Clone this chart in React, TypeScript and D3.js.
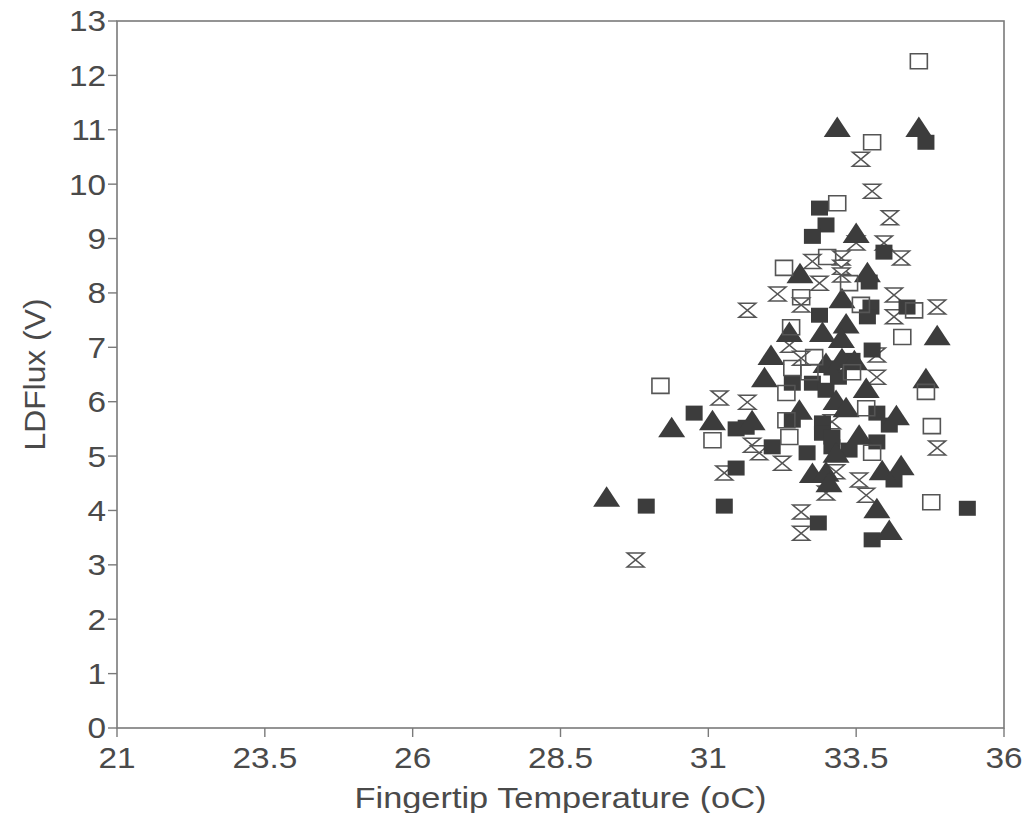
import React from "react";
import * as d3 from "d3";

// LDFlux (V) vs fingertip temperature (oC), four marker groups
const triangles: [number, number][] = [
  [33.18, 11.05], [34.56, 11.05], [33.5, 9.1], [32.55, 8.36], [33.69, 8.38],
  [33.26, 7.9], [32.37, 7.28], [32.93, 7.28], [33.33, 7.44], [33.25, 7.17],
  [34.87, 7.22], [32.06, 6.86], [32.99, 6.71], [33.26, 6.8], [33.47, 6.76],
  [31.95, 6.45], [33.67, 6.25], [34.68, 6.43], [33.16, 6.03], [33.33, 5.9],
  [31.07, 5.66], [30.38, 5.53], [32.54, 5.85], [34.18, 5.75], [31.74, 5.66],
  [33.55, 5.39], [33.16, 5.06], [33.94, 4.74], [34.26, 4.83], [32.76, 4.69],
  [32.99, 4.71], [33.04, 4.52], [29.28, 4.25], [33.85, 4.04], [34.06, 3.64],
];

const filledSquares: [number, number][] = [
  [34.68, 10.77], [32.88, 9.56], [32.99, 9.25], [32.76, 9.04], [33.97, 8.75],
  [33.72, 8.2], [33.75, 7.74], [33.69, 7.56], [34.36, 7.74], [32.88, 7.59],
  [33.77, 6.95], [33.43, 6.76], [32.42, 6.34], [32.76, 6.34], [32.99, 6.21],
  [30.76, 5.79], [32.42, 5.66], [33.85, 5.79], [34.06, 5.57], [32.93, 5.61],
  [32.93, 5.42], [31.47, 5.5], [31.64, 5.53], [32.08, 5.17], [33.85, 5.26],
  [33.09, 5.35], [33.09, 5.17], [32.67, 5.06], [33.38, 5.11], [31.47, 4.78],
  [34.14, 4.56], [29.95, 4.08], [31.27, 4.08], [35.38, 4.04], [32.86, 3.77],
  [33.77, 3.46], [33.09, 6.62], [33.2, 6.45],
];

const openSquares: [number, number][] = [
  [34.56, 12.26], [33.77, 10.77], [33.18, 9.65], [33.01, 8.66], [32.28, 8.46],
  [33.38, 8.18], [32.57, 7.92], [33.58, 7.78], [34.48, 7.68], [32.4, 7.37],
  [34.28, 7.19], [32.42, 6.62], [33.43, 6.54], [34.68, 6.18], [30.19, 6.29],
  [33.67, 5.88], [31.07, 5.29], [32.32, 5.66], [32.37, 5.35], [34.78, 5.55],
  [33.77, 5.06], [34.77, 4.15], [32.32, 6.16], [32.79, 6.82], [32.71, 6.54],
];

const hourglasses: [number, number][] = [
  [33.58, 10.46], [33.77, 9.87], [34.07, 9.38], [33.5, 8.92], [33.97, 8.92],
  [34.26, 8.64], [32.76, 8.58], [33.25, 8.64], [33.25, 8.47], [33.25, 8.33],
  [32.88, 8.18], [32.17, 7.98], [32.57, 7.78], [34.14, 7.96], [34.14, 7.56],
  [34.87, 7.74], [31.66, 7.68], [32.37, 7.04], [33.85, 6.86], [32.57, 6.8],
  [33.85, 6.45], [31.19, 6.07], [31.66, 5.99], [34.87, 5.15], [31.74, 5.2],
  [31.86, 5.06], [32.25, 4.87], [31.27, 4.69], [33.16, 4.71], [32.99, 4.32],
  [33.55, 4.56], [33.67, 4.28], [32.57, 3.97], [32.57, 3.58], [29.77, 3.09],
  [33.09, 5.63],
];

const xTicks = [21, 23.5, 26, 28.5, 31, 33.5, 36];
const yTicks = d3.range(0, 14);

const width = 1026;
const height = 813;
const margin = { top: 21, right: 22, bottom: 85, left: 117 };

const axisColor = "#7a7a7a";
const textColor = "#4a4a4a";
const markColor = "#3c3c3c";
const font = "'Liberation Sans', Arial, Helvetica, sans-serif";

export default function App() {
  const x = d3.scaleLinear().domain([21, 36]).range([margin.left, width - margin.right]);
  const y = d3.scaleLinear().domain([0, 13]).range([height - margin.bottom, margin.top]);

  const x0 = x(21), x1 = x(36), y0 = y(0), y1 = y(13);

  const tri = "M0,-10.5 L13.5,10 L-13.5,10 Z";
  const sq = "M-8.5,-7.5 L8.5,-7.5 L8.5,7.5 L-8.5,7.5 Z";
  const hg = "M-8.5,-7 L8.5,-7 L-8.5,7 L8.5,7 Z";

  return (
    <svg width={width} height={height} style={{ position: "absolute", left: 0, top: 0, display: "block", background: "#fff" }}>
      {/* frame */}
      <rect x={x0} y={y1} width={x1 - x0} height={y0 - y1} fill="none" stroke={axisColor} strokeWidth={1.6} />

      {/* y ticks */}
      {yTicks.map((t) => (
        <g key={"y" + t}>
          <line x1={x0 - 9} x2={x0} y1={y(t)} y2={y(t)} stroke={axisColor} strokeWidth={1.4} />
          <g transform={`translate(${x0 - 11},${y(t)}) scale(1.15,1)`}>
            <text dy="0.36em" textAnchor="end" fontFamily={font} fontSize={29} fill={textColor}>
              {t}
            </text>
          </g>
        </g>
      ))}

      {/* x ticks */}
      {xTicks.map((t) => (
        <g key={"x" + t}>
          <line x1={x(t)} x2={x(t)} y1={y0} y2={y0 + 9} stroke={axisColor} strokeWidth={1.4} />
          <g transform={`translate(${x(t)},${y0 + 40}) scale(1.15,1)`}>
            <text textAnchor="middle" fontFamily={font} fontSize={29} fill={textColor}>
              {t}
            </text>
          </g>
        </g>
      ))}

      {/* axis titles */}
      <text x={(x0 + x1) / 2} y={808} textAnchor="middle" fontFamily={font} fontSize={30} fill={textColor}
        textLength={412} lengthAdjust="spacingAndGlyphs">
        Fingertip Temperature (oC)
      </text>
      <text transform={`translate(45,${(y0 + y1) / 2}) rotate(-90)`} textAnchor="middle" fontFamily={font}
        fontSize={30} fill={textColor} textLength={152} lengthAdjust="spacingAndGlyphs">
        LDFlux (V)
      </text>

      {/* markers */}
      {hourglasses.map(([a, b], i) => (
        <path key={"h" + i} d={hg} transform={`translate(${x(a)},${y(b)})`} fill="#fff" stroke="#555" strokeWidth={1.5} />
      ))}
      {filledSquares.map(([a, b], i) => (
        <path key={"f" + i} d={sq} transform={`translate(${x(a)},${y(b)})`} fill={markColor} />
      ))}
      {triangles.map(([a, b], i) => (
        <path key={"t" + i} d={tri} transform={`translate(${x(a)},${y(b)})`} fill={markColor} />
      ))}
      {openSquares.map(([a, b], i) => (
        <path key={"o" + i} d={sq} transform={`translate(${x(a)},${y(b)})`} fill="none" stroke="#555" strokeWidth={1.6} />
      ))}
    </svg>
  );
}
